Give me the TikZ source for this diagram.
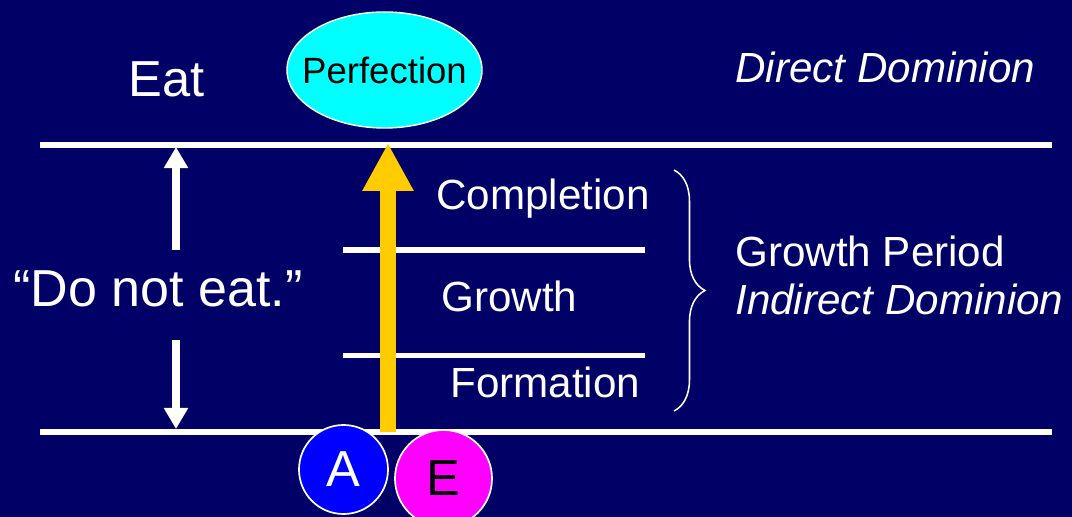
\documentclass[tikz,border=0pt]{standalone}
\usepackage{fontspec}
\setmainfont{Liberation Sans}
\usepackage{tikz}
\usetikzlibrary{arrows.meta,positioning,calc,shapes.geometric,decorations.pathreplacing}
\definecolor{fond}{RGB}{0,0,102}
\definecolor{jaune}{HTML}{FFCC00}
\definecolor{cyanP}{RGB}{0,255,255}
\definecolor{bleuA}{HTML}{0000FF}
\definecolor{roseE}{HTML}{FF00FF}
\tikzset{
  lbl/.style={text=white, inner sep=0pt, anchor=base west, font=\fontsize{#1}{#1}\selectfont},
  lbl/.default=30,
  rule/.style={draw=white, line width=#1},
  rule/.default=4pt,
  perso/.style={circle, draw=white, line width=1.2pt, fill=#1, inner sep=0pt,
                font=\fontsize{36}{36}\selectfont},
  warr/.style={-{Triangle[width=16.4pt,length=15pt]}, draw=white, fill=white, line width=5pt},
  yarr/.style={-{Triangle[width=34pt,length=34pt]}, draw=jaune, fill=jaune, line width=11.4pt},
  brc/.style={draw=white, line width=1.1pt, decorate, decoration={brace,amplitude=22pt}},
}
\begin{document}
\begin{tikzpicture}[x=0.025cm,y=-0.025cm]
        \useasboundingbox (0,0) rectangle (1072,517);
        \fill[fond] (0,0) rectangle (1072,517);
        % niveaux
        \draw[rule] (40,145) -- (1052,145);
        \draw[rule] (40,432) -- (1052,432);
        \draw[rule=3.6pt] (343,250) -- (645,250);
        \draw[rule=3.6pt] (343,355.5) -- (645,355.5);
        % textes
        \node[lbl=36] (eat) at (128,97) {Eat};
        \node[lbl=37] (dne) at (13,307) {“Do not eat.”};
        \node[lbl, font=\fontsize{30}{30}\selectfont\itshape] (dd) at (735,83) {Direct Dominion};
        \node[lbl] (comp) at (436,210) {Completion};
        \node[lbl] (grow) at (441,312) {Growth};
        \node[lbl] (form) at (450,398) {Formation};
        \node[lbl] (gp) at (735,266.5) {Growth Period};
        \node[lbl, font=\fontsize{30}{30}\selectfont\itshape] (id) at (735,315) {Indirect Dominion};
        \node[ellipse, fill=cyanP, draw=white, line width=1pt, minimum width=4.875cm,
              minimum height=2.9cm, inner xsep=-10pt, inner ysep=0pt,
              font=\fontsize{26}{26}\selectfont] (perf)
          at (384.5,70) {Perfection};
        % fleches
        \coordinate (h1) at (176,250); \coordinate (h2) at (176,147);
        \coordinate (b1) at (176,340); \coordinate (b2) at (176,429);
        \draw[warr] (h1) -- (h2); \draw[warr] (b1) -- (b2);
        \coordinate (ya) at (388,432); \coordinate (yb) at (388,143);
        \draw[yarr] (ya) -- (yb);
        \coordinate (br1) at (674,170); \coordinate (br2) at (674,411);
        \draw[brc] (br1) -- (br2);
        % A et E
        \node[perso=bleuA, text=white, minimum size=2.225cm] (A) at (343.5,469.5) {A};
        \node[perso=roseE, text=black, minimum size=2.425cm] (E) at (443.5,478.5) {E};
      \end{tikzpicture}
\end{document}
